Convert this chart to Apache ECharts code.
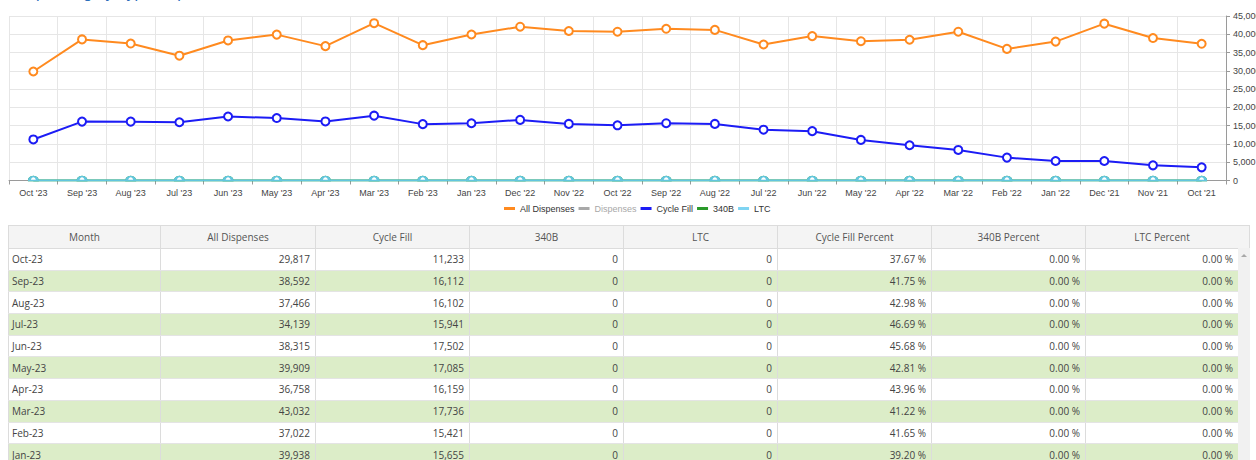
<!DOCTYPE html>
<html>
<head>
<meta charset="utf-8">
<script src="https://cdn.jsdelivr.net/npm/echarts@6/dist/echarts.min.js"></script>
<style>
  html, body { margin:0; padding:0; width:1256px; height:460px; overflow:hidden; background:#fff; }
  #chart { position:absolute; left:0; top:0; width:1256px; height:222px; }
  #tableWrap { position:absolute; left:8px; top:225px; width:1242px; height:240px; overflow:hidden; }
  table { border-collapse:collapse; table-layout:fixed; width:1230px; font-family:'Open Sans', sans-serif; font-size:10px; color:#444; }
  th { background:#f4f4f4; color:#555; font-weight:normal; height:22px; border:1px solid #dcdcdc; padding:0; text-align:center; }
  td { height:20.7px; border-left:1px solid #dcdcdc; border-right:1px solid #dcdcdc; border-bottom:1px solid #e4e4e4; padding:0 5px 0 3px; text-align:right; white-space:nowrap; }
  td.m { text-align:left; }
  tr.alt td { background:#dcedc8; }
  #scroll { position:absolute; left:1238px; top:248px; width:12px; height:220px; background:#f1f1f1; }
  #scrollHead { position:absolute; left:1238px; top:225px; width:11px; height:22px; background:#f4f4f4; border:1px solid #dcdcdc; border-left:none; }
  #arrow { position:absolute; left:3px; top:6px; width:0; height:0; border-left:3px solid transparent; border-right:3px solid transparent; border-bottom:3px solid #a8a8a8; }
</style>
</head>
<body>
<div id="chart"></div>
<div id="tableWrap"><table id="tbl"></table></div>
<div id="scrollHead"></div>
<div id="scroll"><div id="arrow"></div></div>
<script>
// ---- data ----
const axisMonths = ["Oct '23","Sep '23","Aug '23","Jul '23","Jun '23","May '23","Apr '23","Mar '23","Feb '23","Jan '23","Dec '22","Nov '22","Oct '22","Sep '22","Aug '22","Jul '22","Jun '22","May '22","Apr '22","Mar '22","Feb '22","Jan '22","Dec '21","Nov '21","Oct '21"];
const tableMonths = ["Oct-23","Sep-23","Aug-23","Jul-23","Jun-23","May-23","Apr-23","Mar-23","Feb-23","Jan-23","Dec-22","Nov-22","Oct-22","Sep-22","Aug-22","Jul-22","Jun-22","May-22","Apr-22","Mar-22","Feb-22","Jan-22","Dec-21","Nov-21","Oct-21"];
const allDispenses = [29817,38592,37466,34139,38315,39909,36758,43032,37022,39938,42070,40900,40700,41500,41200,37200,39500,38100,38500,40700,36000,38000,42900,38970,37400];
const dispenses = [];
const cycleFill = [11233,16112,16102,15941,17502,17085,16159,17736,15421,15655,16580,15480,15100,15670,15480,13900,13500,11100,9640,8360,6260,5340,5340,4150,3600];
const b340 = [0,0,0,0,0,0,0,0,0,0,0,0,0,0,0,0,0,0,0,0,0,0,0,0,0];
const ltc = [0,0,0,0,0,0,0,0,0,0,0,0,0,0,0,0,0,0,0,0,0,0,0,0,0];
const yTicks = { min:0, max:45000, interval:5000 };
const headers = ["Month","All Dispenses","Cycle Fill","340B","LTC","Cycle Fill Percent","340B Percent","LTC Percent"];
const colWidths = [152,155,154,154,154,154,154,153];

// ---- chart ----
const chart = echarts.init(document.getElementById('chart'), null, { renderer:'svg' });
const fmt = v => v.toLocaleString('en-US');
function lineSeries(name, data, color, z) {
  return {
    name, type:'line', data, z,
    symbol:'emptyCircle', symbolSize:8,
    itemStyle:{ color, borderWidth:2 },
    lineStyle:{ color, width:2 },
    emphasis:{ disabled:true },
    animation:false
  };
}
function halfSymbol(s, color) {
  s.symbol = 'path://M0,4 A4,4 0 0 1 8,4 Z';
  s.symbolSize = [8, 4];
  s.symbolOffset = [0, -2];
  s.itemStyle = { color:'#ffffff', borderColor:color, borderWidth:2 };
  return s;
}
const ltcSeries = halfSymbol(lineSeries('LTC', ltc, '#62c6df', 6), '#62c6df');
const b340Series = halfSymbol(lineSeries('340B', b340, '#2a9a2a', 2), '#2a9a2a');
const legendItem = (name, color) => ({ name, icon:'rect', itemStyle:{ color, borderWidth:0, borderColor:color }, lineStyle:{ width:0 } });

chart.setOption({
  animation:false,
  title:{ text:'Dispensing by Type Report', left:8, top:-21, textStyle:{ color:'#2a6ebb', fontSize:16, fontWeight:'normal', fontFamily:'Arial' } },
  grid:{ left:9, right:30, top:16, bottom:41.5, containLabel:false, outerBoundsMode:'none' },
  legend:{
    left:504, top:204, padding:0, icon:'rect', itemWidth:11, itemHeight:3, itemGap:4,
    textStyle:{ fontSize:9, color:'#333', fontFamily:'Arial' },
    inactiveColor:'#a8a8a8', inactiveBorderWidth:0, inactiveBorderColor:'#a8a8a8',
    selected:{ 'Dispenses': false },
    data:[
      legendItem('All Dispenses', '#ff8a1f'),
      legendItem('Dispenses', '#9a9a9a'),
      legendItem('Cycle Fill', '#1c1cf5'),
      legendItem('340B', '#2a9a2a'),
      legendItem('LTC', '#7fd4f2')
    ]
  },
  xAxis:{
    type:'category', data:axisMonths, boundaryGap:true,
    axisLine:{ lineStyle:{ color:'#9a9a9a' } },
    axisTick:{ show:true, length:4, lineStyle:{ color:'#9a9a9a' } },
    axisLabel:{ interval:0, fontSize:9, color:'#444', margin:8, fontFamily:'Arial' },
    splitLine:{ show:true, lineStyle:{ color:'#e6e6e6' } }
  },
  yAxis:{
    type:'value', position:'right', min:yTicks.min, max:yTicks.max, interval:yTicks.interval,
    axisLine:{ show:true, lineStyle:{ color:'#9a9a9a' } },
    axisTick:{ show:true, length:4, lineStyle:{ color:'#9a9a9a' } },
    axisLabel:{ fontSize:9, color:'#444', margin:7, fontFamily:'Arial', formatter:fmt },
    splitLine:{ show:true, lineStyle:{ color:'#e6e6e6' } }
  },
  series:[
    lineSeries('All Dispenses', allDispenses, '#ff8a1f', 5),
    lineSeries('Dispenses', dispenses, '#9a9a9a', 4),
    lineSeries('Cycle Fill', cycleFill, '#1c1cf5', 3),
    b340Series,
    ltcSeries
  ]
});

// ---- table ----
const tbl = document.getElementById('tbl');
let html = '<colgroup>' + colWidths.map(w => '<col style="width:' + w + 'px">').join('') + '</colgroup>';
html += '<tr>' + headers.map(h => '<th>' + h + '</th>').join('') + '</tr>';
const pct = (a, b) => (b ? (a / b * 100) : 0).toFixed(2) + ' %';
tableMonths.forEach((m, i) => {
  html += '<tr' + (i % 2 ? ' class="alt"' : '') + '>' +
    '<td class="m">' + m + '</td>' +
    '<td>' + fmt(allDispenses[i]) + '</td>' +
    '<td>' + fmt(cycleFill[i]) + '</td>' +
    '<td>' + fmt(b340[i]) + '</td>' +
    '<td>' + fmt(ltc[i]) + '</td>' +
    '<td>' + pct(cycleFill[i], allDispenses[i]) + '</td>' +
    '<td>' + pct(b340[i], allDispenses[i]) + '</td>' +
    '<td>' + pct(ltc[i], allDispenses[i]) + '</td>' +
    '</tr>';
});
tbl.innerHTML = html;
</script>
</body>
</html>
